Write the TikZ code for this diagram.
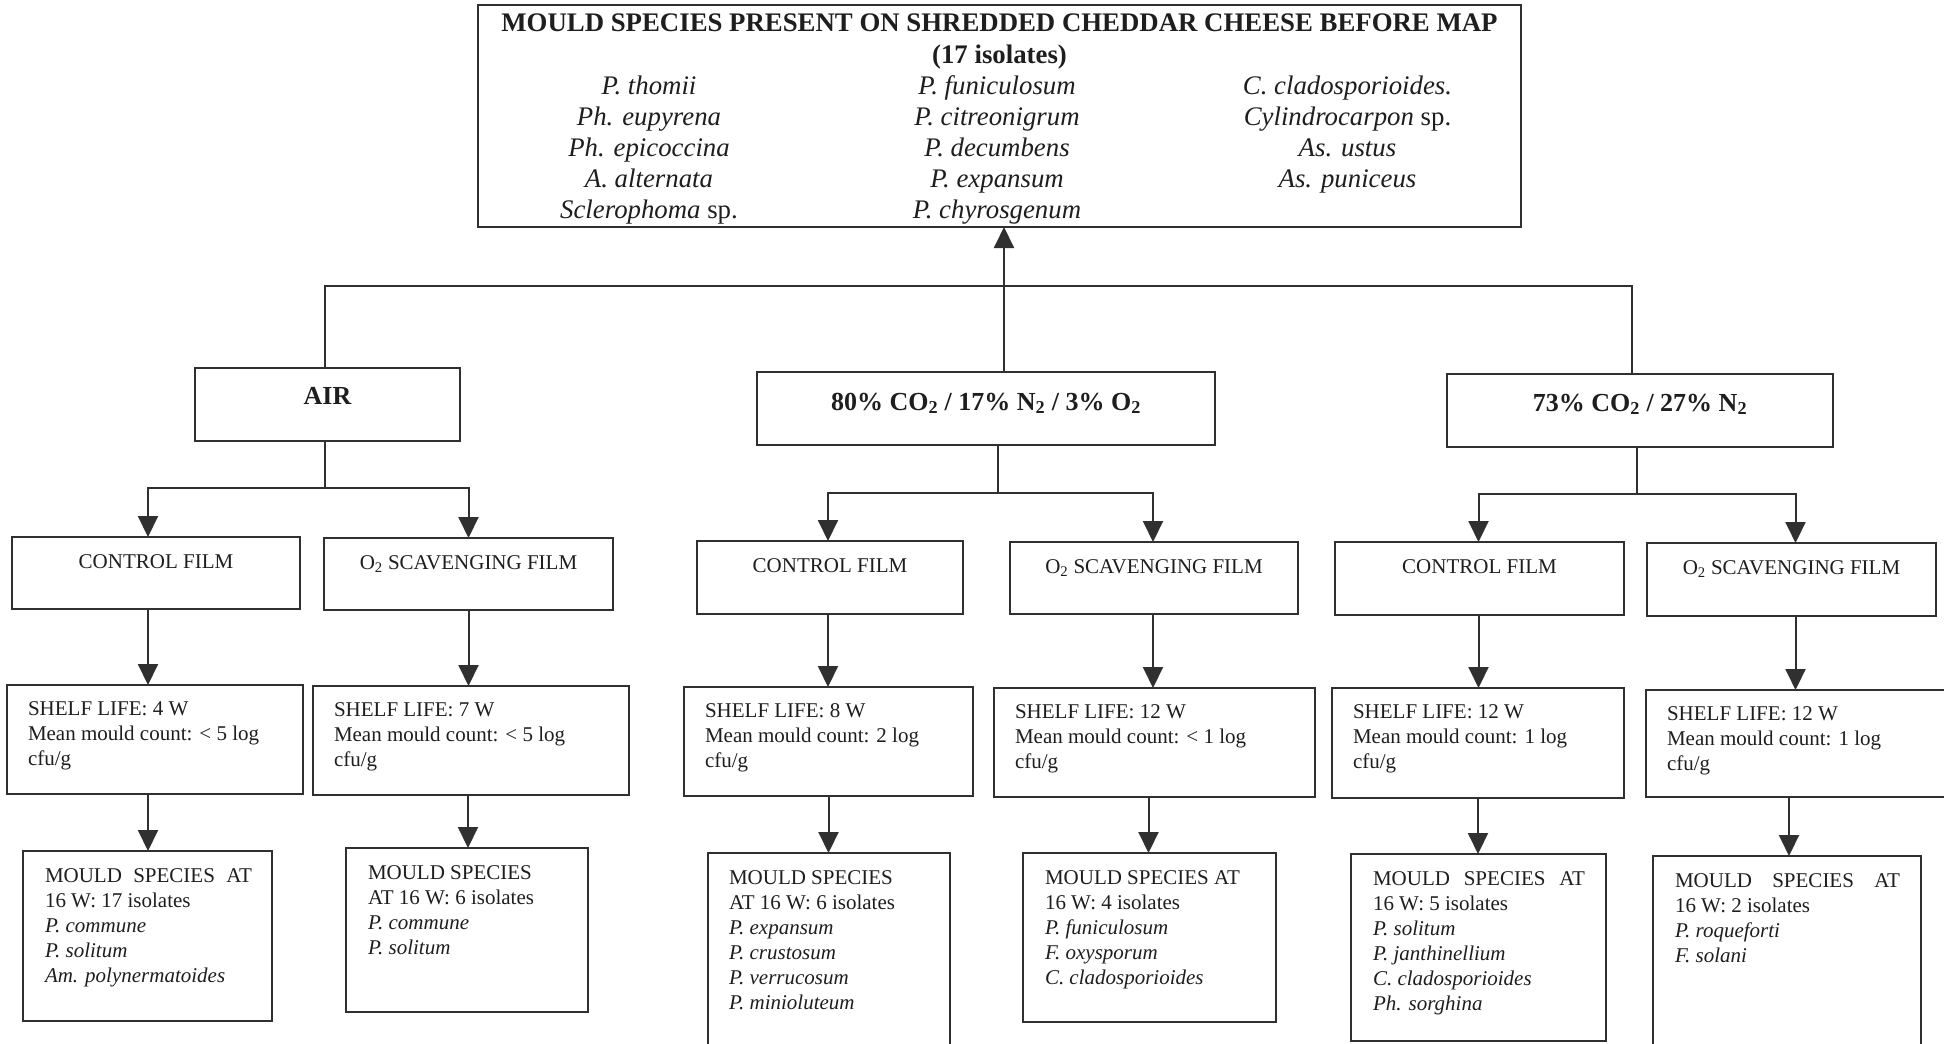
\documentclass[tikz,border=0pt]{standalone}
\usepackage{fontspec}
\setmainfont{Liberation Serif}
\usetikzlibrary{arrows.meta}
\definecolor{lc}{HTML}{303030}
\definecolor{tc}{HTML}{1E1E1E}
% name, style, x1, y1, x2, y2, content  (pixel coordinates, y downwards)
\newcommand{\bxx}[7]{%
  \node[#2, anchor=north west] (#1) at (#3,#4)
    {\parbox[t][\dimexpr #6pt-#4pt\relax][t]{\dimexpr #5pt-#3pt\relax}{#7}};}
\newcommand{\sprow}[3]{\makebox[342pt]{#1}\makebox[354pt]{#2}\makebox[347pt]{#3}}
\newcommand{\lft}[1]{\raggedright\leftskip=#1pt\relax}
\tikzset{
  boxst/.style={draw=lc, line width=2pt, inner sep=0pt, outer sep=0pt, text=tc,
                font=\fontsize{21}{25}\selectfont},
  bigst/.style={boxst, font=\fontsize{26}{31}\selectfont},
  topst/.style={boxst, font=\fontsize{26.8}{31}\selectfont},
  ln/.style={draw=lc, line width=2pt},
  arr/.style={ln, -{Triangle[length=21pt,width=20pt]}}
}
\begin{document}
\begin{tikzpicture}[x=1pt,y=-1pt]
\useasboundingbox[fill=white] (0,0) rectangle (1944,1044);
\clip (0,0) rectangle (1944,1044);

% top box
\bxx{top}{topst}{478}{5}{1521}{227}{\centering\rule{0pt}{26pt}\textbf{MOULD SPECIES PRESENT ON SHREDDED CHEDDAR CHEESE BEFORE MAP}\\[1pt]
\textbf{(17 isolates)}\\ \itshape
\sprow{P. thomii}{P. funiculosum}{C. cladosporioides.}\\
\sprow{Ph. eupyrena}{P. citreonigrum}{Cylindrocarpon \textup{sp.}}\\
\sprow{Ph. epicoccina}{P. decumbens}{As. ustus}\\
\sprow{A. alternata}{P. expansum}{As. puniceus}\\
\sprow{Sclerophoma \textup{sp.}}{P. chyrosgenum}{}}

% atmospheres
\bxx{air}{bigst}{195}{368}{460}{441}{\centering\rule{0pt}{36pt}\bfseries AIR}
\bxx{g2}{bigst}{757}{372}{1215}{445}{\centering\rule{0pt}{38pt}\bfseries 80\% CO\textsubscript{2} / 17\% N\textsubscript{2} / 3\% O\textsubscript{2}}
\bxx{g3}{bigst}{1447}{374}{1833}{447}{\centering\rule{0pt}{37pt}\bfseries 73\% CO\textsubscript{2} / 27\% N\textsubscript{2}}

% films
\bxx{cf1}{boxst}{12}{537}{300}{609}{\centering\rule{0pt}{31pt}CONTROL FILM}
\bxx{of1}{boxst}{324}{538}{613}{610}{\centering\rule{0pt}{31pt}O\textsubscript{2} SCAVENGING FILM}
\bxx{cf2}{boxst}{697}{541}{963}{614}{\centering\rule{0pt}{31pt}CONTROL FILM}
\bxx{of2}{boxst}{1010}{542}{1298}{614}{\centering\rule{0pt}{31pt}O\textsubscript{2} SCAVENGING FILM}
\bxx{cf3}{boxst}{1335}{542}{1624}{615}{\centering\rule{0pt}{31pt}CONTROL FILM}
\bxx{of3}{boxst}{1647}{543}{1936}{616}{\centering\rule{0pt}{31pt}O\textsubscript{2} SCAVENGING FILM}

% shelf life
\bxx{sl1}{boxst}{7}{685}{303}{794}{\lft{21}\rule{0pt}{30pt}SHELF LIFE: 4 W\\Mean mould count: < 5 log\\cfu/g}
\bxx{sl2}{boxst}{313}{686}{629}{795}{\lft{21}\rule{0pt}{30pt}SHELF LIFE: 7 W\\Mean mould count: < 5 log\\cfu/g}
\bxx{sl3}{boxst}{684}{687}{973}{796}{\lft{21}\rule{0pt}{30pt}SHELF LIFE: 8 W\\Mean mould count: 2 log\\cfu/g}
\bxx{sl4}{boxst}{994}{688}{1315}{797}{\lft{21}\rule{0pt}{30pt}SHELF LIFE: 12 W\\Mean mould count: < 1 log\\cfu/g}
\bxx{sl5}{boxst}{1332}{688}{1624}{798}{\lft{21}\rule{0pt}{30pt}SHELF LIFE: 12 W\\Mean mould count: 1 log\\cfu/g}
\bxx{sl6}{boxst}{1646}{690}{1956}{797}{\lft{21}\rule{0pt}{30pt}SHELF LIFE: 12 W\\Mean mould count: 1 log\\cfu/g}

% mould species at 16 W
\bxx{m1}{boxst}{23}{851}{272}{1021}{\lft{22}\rule{0pt}{31pt}\hbox to 207pt{MOULD\hfill SPECIES\hfill AT}\\16 W: 17 isolates\\\itshape P. commune\\P. solitum\\Am. polynermatoides}
\bxx{m2}{boxst}{346}{848}{588}{1012}{\lft{22}\rule{0pt}{31pt}MOULD SPECIES\\AT 16 W: 6 isolates\\\itshape P. commune\\P. solitum}
\bxx{m3}{boxst}{708}{853}{950}{1060}{\lft{21}\rule{0pt}{31pt}MOULD SPECIES\\AT 16 W: 6 isolates\\\itshape P. expansum\\P. crustosum\\P. verrucosum\\P. minioluteum}
\bxx{m4}{boxst}{1023}{853}{1276}{1022}{\lft{22}\rule{0pt}{31pt}MOULD SPECIES AT\\16 W: 4 isolates\\\itshape P. funiculosum\\F. oxysporum\\C. cladosporioides}
\bxx{m5}{boxst}{1351}{854}{1606}{1041}{\lft{22}\rule{0pt}{31pt}\hbox to 212pt{MOULD\hfill SPECIES\hfill AT}\\16 W: 5 isolates\\\itshape P. solitum\\P. janthinellium\\C. cladosporioides\\Ph. sorghina}
\bxx{m6}{boxst}{1653}{856}{1921}{1060}{\lft{22}\rule{0pt}{31pt}\hbox to 225pt{MOULD\hfill SPECIES\hfill AT}\\16 W: 2 isolates\\\itshape P. roqueforti\\F. solani}

% top-level connectors
\coordinate (hub) at (1004,286);
\draw[ln] ([xshift=-3]air.north) |- (hub) -| ([xshift=-8]g3.north);
\draw[ln] ([xshift=18]g2.north) -- (hub);
\draw[arr] (hub) -- (top.south -| hub);

% splits
\draw[ln] ([xshift=-3]air.south) -- ++(0,47) coordinate (ja);
\draw[arr] (ja) -| ([xshift=-8]cf1.north);
\draw[arr] (ja) -| (of1.north);
\draw[ln] ([xshift=12]g2.south) -- ++(0,48) coordinate (jb);
\draw[arr] (jb) -| ([xshift=-2]cf2.north);
\draw[arr] (jb) -| ([xshift=-1]of2.north);
\draw[ln] ([xshift=-3]g3.south) -- ++(0,47) coordinate (jc);
\draw[arr] (jc) -| ([xshift=-1]cf3.north);
\draw[arr] (jc) -| ([xshift=4]of3.north);

% film -> shelf
\draw[arr] ([xshift=-8]cf1.south) -- ([xshift=-8]cf1.south |- sl1.north);
\draw[arr] (of1.south) -- (of1.south |- sl2.north);
\draw[arr] ([xshift=-2]cf2.south) -- ([xshift=-2]cf2.south |- sl3.north);
\draw[arr] ([xshift=-1]of2.south) -- ([xshift=-1]of2.south |- sl4.north);
\draw[arr] ([xshift=-1]cf3.south) -- ([xshift=-1]cf3.south |- sl5.north);
\draw[arr] ([xshift=4]of3.south) -- ([xshift=4]of3.south |- sl6.north);

% shelf -> mould
\draw[arr] ([xshift=-7]sl1.south) -- ([xshift=-7]sl1.south |- m1.north);
\draw[arr] ([xshift=-3]sl2.south) -- ([xshift=-3]sl2.south |- m2.north);
\draw[arr] (sl3.south) -- (sl3.south |- m3.north);
\draw[arr] ([xshift=-6]sl4.south) -- ([xshift=-6]sl4.south |- m4.north);
\draw[arr] (sl5.south) -- (sl5.south |- m5.north);
\draw[arr] ([xshift=2]m6.north |- sl6.south) -- ([xshift=2]m6.north);
\end{tikzpicture}
\end{document}
